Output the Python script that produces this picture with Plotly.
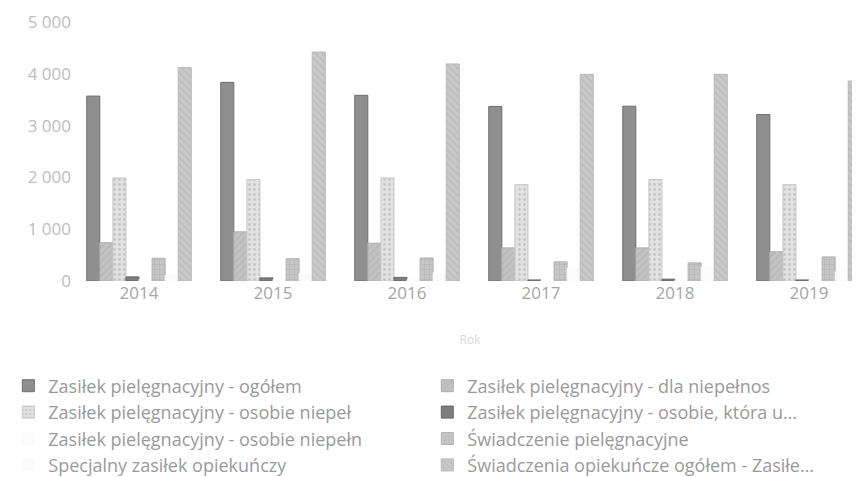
import plotly.graph_objects as go

years = ['2014', '2015', '2016', '2017', '2018', '2019']

# serie w kolejnosci rysowania (legenda pozioma, dwie kolumny)
names = [
    'Zasiłek pielęgnacyjny - ogółem',
    'Zasiłek pielęgnacyjny - dla niepełnos',
    'Zasiłek pielęgnacyjny - osobie niepeł',
    'Zasiłek pielęgnacyjny - osobie, która u…',
    'Zasiłek pielęgnacyjny - osobie niepełn',
    'Świadczenie pielęgnacyjne',
    'Specjalny zasiłek opiekuńczy',
    'Świadczenia opiekuńcze ogółem - Zasiłe…',
]

ogolem = [3570, 3835, 3585, 3370, 3375, 3215]
dla_niepelnosprawnego = [740, 950, 730, 640, 640, 565]
osobie_niepel = [1990, 1960, 1990, 1860, 1960, 1860]
osobie_ktora = [80, 60, 70, 20, 35, 20]
osobie_niepeln = [30, 30, 30, 20, 20, 20]
swiadczenie_piel = [440, 430, 445, 370, 350, 465]
specjalny = [110, 150, 160, 250, 265, 180]
opiekuncze_ogolem = [4120, 4420, 4190, 3990, 3990, 3860]

series = [ogolem, dla_niepelnosprawnego, osobie_niepel, osobie_ktora,
          osobie_niepeln, swiadczenie_piel, specjalny, opiekuncze_ogolem]

colors = ['#8f8f8f', '#c2c2c2', '#e2e2e2', '#7d7d7d',
          '#fbfbfb', '#c6c6c6', '#fbfbfb', '#c9c9c9']
lines = ['#6e6e6e', '#b0b0b0', '#c8c8c8', '#666666',
         '#fbfbfb', '#b4b4b4', '#fbfbfb', '#b8b8b8']
patterns = ['', '/', '.', '', '', '+', '', '\\']

fig = go.Figure()
for name, vals, c, lc, p in zip(names, series, colors, lines, patterns):
    fig.add_trace(go.Bar(
        x = years,
        y = vals,
        name = name,
        marker = dict(
            color = c,
            line = dict(color = lc, width = 1),
            pattern = dict(shape = p, fgcolor = '#a8a8a8', size = 5, solidity = 0.25),
        ),
    ))

fig.update_layout(
    width = 860,
    height = 477,
    margin = dict(l = 64, r = 0, t = 14, b = 204),
    barmode = 'group',
    bargap = 0.22,
    bargroupgap = 0,
    plot_bgcolor = 'white',
    paper_bgcolor = 'white',
    separators = ', ',
    font = dict(family = 'Open Sans', size = 17, color = '#a8a8a8'),
    legend = dict(
        orientation = 'h',
        x = -0.08,
        xanchor = 'left',
        y = -0.334,
        yanchor = 'top',
        entrywidth = 374,
        entrywidthmode = 'pixels',
        font = dict(size = 18, color = '#9a9a9a'),
        traceorder = 'normal',
    ),
)

fig.update_xaxes(
    range = [-0.5, 5.44],
    automargin = False,
    showgrid = False,
    showline = False,
    ticks = '',
    tickfont = dict(size = 17, color = '#a5a5a5'),
    title = dict(text = 'Rok', font = dict(size = 12, color = '#d8d8d8'), standoff = 32),
)
fig.update_yaxes(
    range = [0, 5000],
    automargin = False,
    tickvals = [0, 1000, 2000, 3000, 4000, 5000],
    tickformat = ',d',
    showgrid = False,
    zeroline = False,
    showline = False,
    tickfont = dict(size = 17, color = '#bdbdbd'),
)

fig.write_html("out.html")
